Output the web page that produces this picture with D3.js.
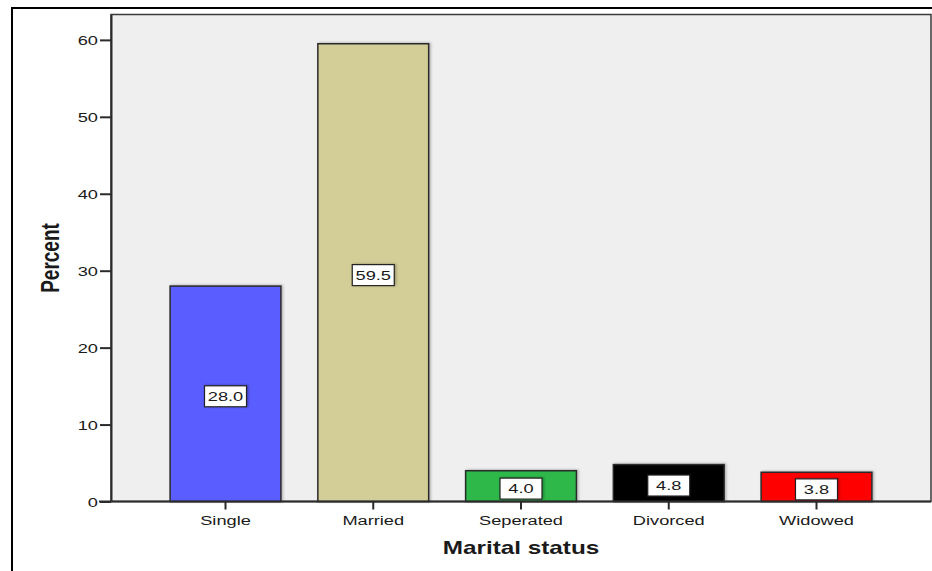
<!DOCTYPE html>
<html>
<head>
<meta charset="utf-8">
<script src="https://cdn.jsdelivr.net/npm/d3@7"></script>
<style>
  html, body { margin: 0; padding: 0; background: #fff; overflow: hidden; }
  svg { display: block; }
  text { font-family: "Liberation Sans", Arial, sans-serif; fill: #1a1a1a; }
</style>
</head>
<body>
<script>
// Marital status distribution (percent of respondents)
const categories = ["Single", "Married", "Seperated", "Divorced", "Widowed"];
const percents   = [28.0, 59.5, 4.0, 4.8, 3.8];
const barColors  = ["#5a5dff", "#d3ce97", "#2db84a", "#000000", "#ff0000"];
const yTicks     = [0, 10, 20, 30, 40, 50, 60];
const xTitle = "Marital status";
const yTitle = "Percent";

const W = 932, H = 571;
const plot = { left: 111, right: 931, top: 14.5, bottom: 501.5 };
const STRETCH = 1.35; // wide glyph rendering used throughout the chart

const svg = d3.select("body").append("svg").attr("width", W).attr("height", H);

const defs = svg.append("defs");
const sh = defs.append("filter").attr("id", "shadow")
  .attr("x", "-10%").attr("y", "-10%").attr("width", "120%").attr("height", "120%");
sh.append("feDropShadow").attr("dx", 1.5).attr("dy", -0.5)
  .attr("stdDeviation", 1).attr("flood-color", "#000").attr("flood-opacity", 0.25);

// outer frame
svg.append("path")
  .attr("d", `M12,${H} L12,8 L${W},8`)
  .attr("fill", "none").attr("stroke", "#000").attr("stroke-width", 2);

const x = d3.scaleBand()
  .domain(categories)
  .range([plot.left, plot.right])
  .paddingInner(0.25)
  .paddingOuter(0.4);

const y = d3.scaleLinear()
  .domain([0, 63.3])
  .range([plot.bottom, plot.top]);

// plot background
svg.append("rect")
  .attr("x", plot.left).attr("y", plot.top)
  .attr("width", plot.right - plot.left).attr("height", plot.bottom - plot.top)
  .attr("fill", "#efefef").attr("stroke", "#3a3a3a").attr("stroke-width", 1.5);

// bars
svg.append("g").selectAll("rect")
  .data(categories)
  .join("rect")
  .attr("x", d => x(d))
  .attr("y", (d, i) => y(percents[i]))
  .attr("width", x.bandwidth())
  .attr("height", (d, i) => y(0) - y(percents[i]))
  .attr("fill", (d, i) => barColors[i])
  .attr("stroke", "#2b2b2b").attr("stroke-width", 1.5)
  .attr("filter", "url(#shadow)");

// y axis
const yAxis = svg.append("g")
  .attr("transform", `translate(${plot.left},0)`)
  .call(d3.axisLeft(y).tickValues(yTicks).tickSizeInner(11).tickSizeOuter(0)
    .tickPadding(2).tickFormat(d3.format("d")));
yAxis.select(".domain").attr("stroke", "#2b2b2b").attr("stroke-width", 2);
yAxis.selectAll(".tick line").attr("stroke", "#2b2b2b").attr("stroke-width", 2);
yAxis.selectAll(".tick text")
  .attr("font-size", 13.5).attr("font-family", null).attr("fill", "#222")
  .attr("x", null).attr("dy", "0.35em")
  .attr("transform", `translate(-13,0) scale(${STRETCH},1)`);

// x axis
const xAxis = svg.append("g")
  .attr("transform", `translate(0,${plot.bottom})`)
  .call(d3.axisBottom(x).tickSizeInner(8).tickSizeOuter(0).tickPadding(0));
xAxis.select(".domain").attr("stroke", "#2b2b2b").attr("stroke-width", 2)
  .attr("d", `M${plot.left - 12},0H${plot.right}`);
xAxis.selectAll(".tick line").attr("stroke", "#2b2b2b").attr("stroke-width", 2);
xAxis.selectAll(".tick text")
  .attr("font-size", 13.5).attr("font-family", null).attr("fill", "#222")
  .attr("y", null).attr("dy", null)
  .attr("transform", `translate(0,23) scale(${STRETCH},1)`);

// value labels in boxes, centred in each bar
const labels = svg.append("g").selectAll("g")
  .data(categories)
  .join("g")
  .attr("transform", (d, i) => {
    const cx = x(d) + x.bandwidth() / 2;
    const cy = (y(percents[i]) + y(0)) / 2 + 2.5;
    return `translate(${cx},${cy})`;
  });
labels.append("rect")
  .attr("x", -21).attr("y", -10.5).attr("width", 42).attr("height", 21)
  .attr("fill", "#fff").attr("stroke", "#222").attr("stroke-width", 1.2)
  .attr("filter", "url(#shadow)");
labels.append("text")
  .attr("text-anchor", "middle").attr("dy", "0.36em")
  .attr("font-size", 13.5).attr("fill", "#111")
  .attr("transform", `scale(${STRETCH},1)`)
  .text((d, i) => d3.format(".1f")(percents[i]));

// axis titles
svg.append("text")
  .attr("text-anchor", "middle")
  .attr("font-size", 18).attr("font-weight", "bold").attr("fill", "#111")
  .attr("transform", `translate(${(plot.left + plot.right) / 2},554) scale(${STRETCH},1)`)
  .text(xTitle);

svg.append("text")
  .attr("text-anchor", "middle")
  .attr("font-size", 19).attr("font-weight", "bold").attr("fill", "#111")
  .attr("transform", `translate(59,${(plot.top + plot.bottom) / 2}) scale(${STRETCH},1) rotate(-90)`)
  .text(yTitle);
</script>
</body>
</html>
